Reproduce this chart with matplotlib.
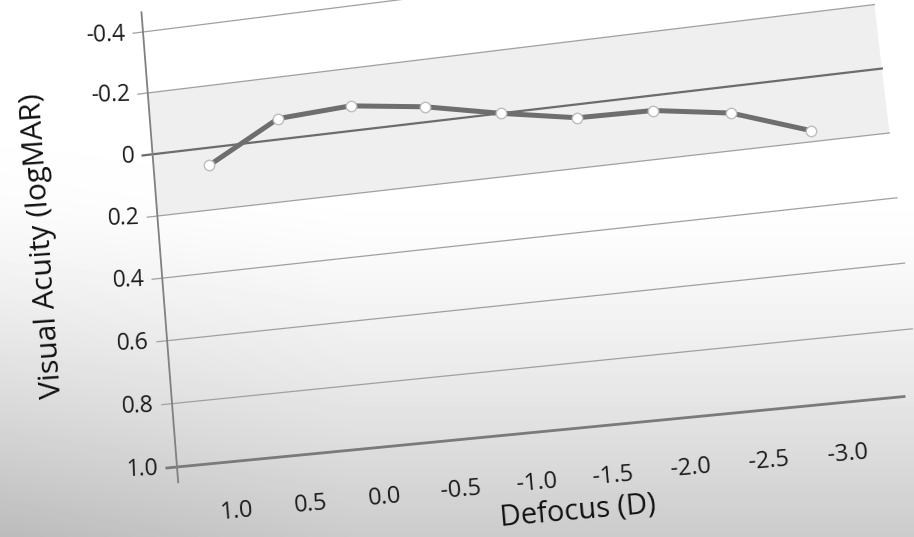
import numpy as np
import matplotlib.pyplot as plt
from matplotlib.transforms import Transform, Affine2D
from matplotlib.patches import Polygon

plt.rcParams['font.family'] = ['Open Sans', 'DejaVu Sans']

# data
defocus = [1.0, 0.5, 0.0, -0.5, -1.0, -1.5, -2.0, -2.5, -3.0]
acuity = [0.057, -0.067, -0.08, -0.049, 0.0, 0.042, 0.047, 0.083, 0.166]
x_labels = ['1.0', '0.5', '0.0', '-0.5', '-1.0', '-1.5', '-2.0', '-2.5', '-3.0']
y_ticks = [-0.4, -0.2, 0.0, 0.2, 0.4, 0.6, 0.8, 1.0]
y_labels = ['-0.4', '-0.2', '0', '0.2', '0.4', '0.6', '0.8', '1.0']
band = (-0.2, 0.2)

W, H_PX = 914, 537
XL, XR = 1.384, -3.49   # x limits (reversed axis)
YB, YT = 1.0, -0.4      # y limits (reversed axis)


def homography(src, dst):
    A, b = [], []
    for (u, v), (x, y) in zip(src, dst):
        A.append([u, v, 1, 0, 0, 0, -u * x, -v * x]); b.append(x)
        A.append([0, 0, 0, u, v, 1, -u * y, -v * y]); b.append(y)
    h = np.linalg.solve(np.array(A, float), np.array(b, float))
    return np.append(h, 1).reshape(3, 3)


class Perspective(Transform):
    # maps axes-fraction coords onto the tilted plane of the photo (image pixels)
    input_dims = 2
    output_dims = 2
    is_separable = False
    has_inverse = False

    def __init__(self, m):
        super().__init__()
        self.m = m

    def transform_non_affine(self, values):
        v = np.asarray(values, float).reshape(-1, 2)
        p = np.column_stack([v, np.ones(len(v))]) @ self.m.T
        return p[:, :2] / p[:, 2:3]


corners_unit = [(0, 0), (1, 0), (1, 1), (0, 1)]
corners_px = [(177, 467), (920, 395), (867, -59), (143, 32)]
M = homography(corners_unit, corners_px)

fig = plt.figure(figsize=(W / 100, H_PX / 100), dpi=100)

# photo background: white top, grey towards the bottom
bg = fig.add_axes([0, 0, 1, 1], zorder=-1)
px, py = np.meshgrid(np.arange(W), np.arange(H_PX))
g = 255 - 52 * np.clip((py - 190) / 347, 0, 1) ** 1.4
g = g - 16 * np.clip(1 - px / 350, 0, 1) * np.clip((py - 120) / 417, 0, 1)
bg.imshow(g, cmap='gray', vmin=0, vmax=255, aspect='auto')
bg.axis('off')

ax = fig.add_axes([0, 0, 1, 1])
ax.patch.set_alpha(0)
ax.axis('off')

pix = Affine2D().scale(1 / W, -1 / H_PX).translate(0, 1) + fig.transFigure
proj = ax.transScale + ax.transLimits + Perspective(M) + pix

# shaded band
ax.add_patch(Polygon([(XL, band[0]), (XR, band[0]), (XR, band[1]), (XL, band[1])],
                     closed=True, facecolor='#efefef', edgecolor='none',
                     transform=proj, clip_on=False, zorder=1))

tick_len = 0.07
for yv, lab in zip(y_ticks, y_labels):
    if yv == 0.0:
        ax.plot([XL + tick_len, XR], [yv, yv], color='#6c6c6c', lw=1.6,
                transform=proj, clip_on=False, zorder=3)
    elif yv == 1.0:
        ax.plot([XL + tick_len, XR + 0.1], [yv, yv], color='#7a7a7a', lw=2.0,
                transform=proj, clip_on=False, zorder=3)
    else:
        ax.plot([XL + tick_len, XR], [yv, yv], color='#a0a0a0', lw=0.9,
                transform=proj, clip_on=False, zorder=2)
    ax.text(XL + 0.125, yv, lab, transform=proj, ha='right', va='center',
            fontsize=16.5, color='#1c1c1c', rotation=2, rotation_mode='anchor')

# y axis line
ax.plot([XL, XL], [1.048, -0.465], color='#808080', lw=1.3,
        transform=proj, clip_on=False, zorder=3)

# data
ax.plot(defocus, acuity, color='#6e6e6e', lw=3.6, marker='o', markersize=7.5,
        markerfacecolor='white', markeredgecolor='#bdbdbd', markeredgewidth=1.0,
        transform=proj, clip_on=False, zorder=5)

for xv, lab in zip(defocus, x_labels):
    ax.text(xv, 1.155, lab, transform=proj, ha='center', va='center',
            fontsize=17, color='#1c1c1c', rotation=5, rotation_mode='anchor')

ax.set_xlim(XL, XR)
ax.set_ylim(YB, YT)

pix_text = Affine2D().scale(1 / W, -1 / H_PX).translate(0, 1) + fig.transFigure
fig.text(578, 511, 'Defocus (D)', transform=pix_text, ha='center', va='center',
         fontsize=21, color='#111111', rotation=5, rotation_mode='anchor')
fig.text(43, 246, 'Visual Acuity (logMAR)', transform=pix_text, ha='center',
         va='center', fontsize=21.5, color='#111111', rotation=94,
         rotation_mode='anchor')

fig.savefig('out.png', dpi=100)
